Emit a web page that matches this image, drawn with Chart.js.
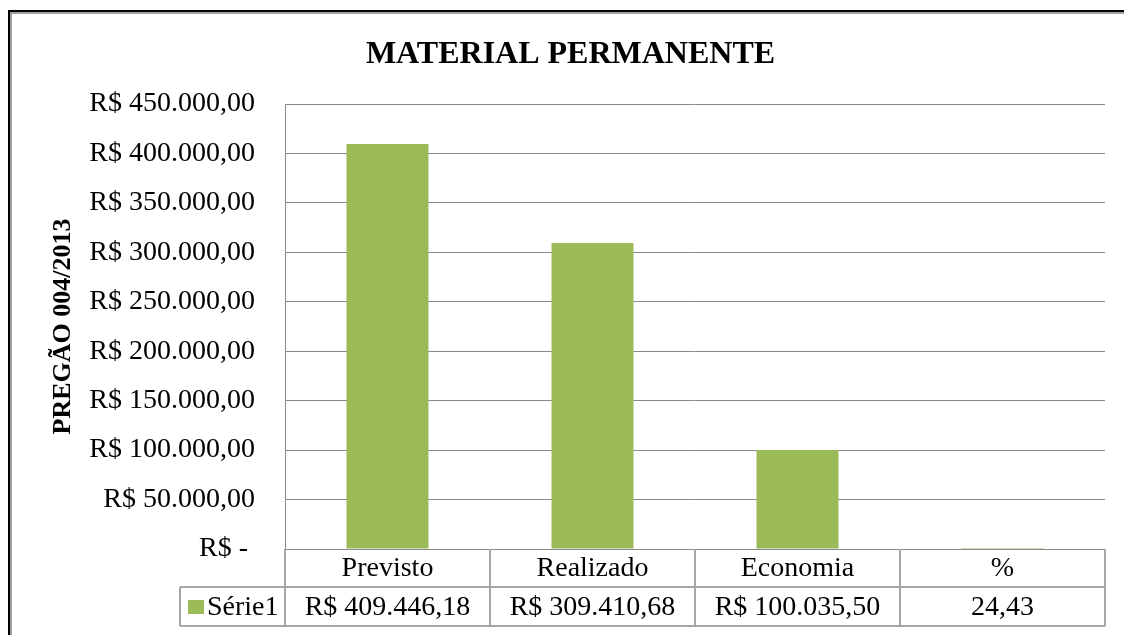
<!DOCTYPE html>
<html>
<head>
<meta charset="utf-8">
<title>MATERIAL PERMANENTE</title>
<script src="https://cdn.jsdelivr.net/npm/chart.js@4"></script>
<style>
  html, body { margin: 0; padding: 0; background: #fff; }
  #box { width: 1124px; height: 635px; }
</style>
</head>
<body>
<div id="box"><canvas id="chartPermanente" width="1124" height="635"></canvas></div>
<script>
var categorias = ["Previsto", "Realizado", "Economia", "%"];
var valores = [409446.18, 309410.68, 100035.50, 24.43];
var rotulosTabela = ["R$ 409.446,18", "R$ 309.410,68", "R$ 100.035,50", "24,43"];
var nomeSerie = "Série1";
var corBarra = "#9BBB59";
var fonte = "'Liberation Serif', 'Times New Roman', serif";

function formatBR(v) {
    var partes = v.toFixed(2).split(".");
    partes[0] = partes[0].replace(/\B(?=(\d{3})+(?!\d))/g, ".");
    return partes.join(",");
}

// moldura da página (borda superior e esquerda)
var moldura = {
    id: "moldura",
    beforeDraw: function(chart) {
        var ctx = chart.ctx;
        ctx.save();
        ctx.fillStyle = "#fff";
        ctx.fillRect(0, 0, chart.width, chart.height);
        ctx.fillStyle = "#000";
        ctx.fillRect(8, 10, chart.width - 8, 2);
        ctx.fillRect(8, 10, 2, chart.height - 10);
        ctx.fillStyle = "#a0a0a0";
        ctx.fillRect(10, 12, chart.width - 10, 2);
        ctx.fillRect(10, 12, 2, chart.height - 12);
        ctx.restore();
    }
};

// tabela de dados abaixo do eixo x
var tabela = {
    id: "tabela",
    afterDraw: function(chart) {
        var ctx = chart.ctx;
        var area = chart.chartArea;
        var x = chart.scales.x;
        var meio = (x.getPixelForValue(1) - x.getPixelForValue(0)) / 2;
        var y0 = area.bottom, y1 = y0 + 38, y2 = y1 + 39;
        var esq = area.left - 105;
        ctx.save();
        ctx.strokeStyle = "#a6a6a6";
        ctx.lineWidth = 2;
        ctx.beginPath();
        ctx.moveTo(area.left, y1); ctx.lineTo(area.right, y1);
        ctx.moveTo(esq, y1); ctx.lineTo(area.left, y1);
        ctx.moveTo(esq, y2); ctx.lineTo(area.right, y2);
        ctx.moveTo(esq, y1); ctx.lineTo(esq, y2);
        for (var i = 0; i < categorias.length; i++) {
            var cx = x.getPixelForValue(i);
            ctx.moveTo(cx + meio, y0); ctx.lineTo(cx + meio, y2);
        }
        ctx.moveTo(area.left, y0); ctx.lineTo(area.left, y2);
        ctx.stroke();

        ctx.fillStyle = "#000";
        ctx.font = "28px " + fonte;
        ctx.textAlign = "center";
        ctx.textBaseline = "middle";
        for (var j = 0; j < categorias.length; j++) {
            var px = x.getPixelForValue(j);
            ctx.fillText(categorias[j], px, (y0 + y1) / 2 + 1);
            ctx.fillText(rotulosTabela[j], px, (y1 + y2) / 2 + 1);
        }
        ctx.fillStyle = corBarra;
        ctx.fillRect(esq + 8, y1 + 13, 16, 14);
        ctx.fillStyle = "#000";
        ctx.textAlign = "left";
        ctx.fillText(nomeSerie, esq + 27, (y1 + y2) / 2 + 1);
        ctx.restore();
    }
};

var ChartPermanente = {
    type: "bar",
    data: {
        labels: categorias,
        datasets: [{
            label: nomeSerie,
            data: valores,
            backgroundColor: corBarra,
            categoryPercentage: 0.4,
            barPercentage: 1.0
        }]
    },
    options: {
        responsive: false,
        animation: false,
        layout: { padding: { left: 36, right: 19, top: 0, bottom: 0 } },
        plugins: {
            legend: { display: false },
            tooltip: { enabled: false },
            title: {
                display: true,
                text: "MATERIAL PERMANENTE",
                color: "#000",
                font: { family: fonte, size: 32, weight: "bold", lineHeight: 1.2 },
                padding: { top: 36, bottom: 29.6 }
            }
        },
        scales: {
            x: {
                grid: { display: false },
                border: { display: false },
                ticks: { display: false },
                afterFit: function(s) { s.height = 86; }
            },
            y: {
                min: 0,
                max: 450000,
                ticks: {
                    stepSize: 50000,
                    padding: 30,
                    color: "#000",
                    font: { family: fonte, size: 28 },
                    callback: function(v) { return v === 0 ? "R$ - " : "R$ " + formatBR(v); }
                },
                grid: { color: "#8a8a8a", lineWidth: 1, drawTicks: false },
                border: { color: "#8a8a8a", width: 1 },
                title: {
                    display: true,
                    text: "PREGÃO 004/2013",
                    color: "#000",
                    font: { family: fonte, size: 26, weight: "bold", lineHeight: 1.2 },
                    padding: { top: 12 }
                },
                afterFit: function(s) { s.width = 249; }
            }
        }
    },
    plugins: [moldura, tabela]
};

var ctxPermanente = document.getElementById("chartPermanente").getContext("2d");
window.Permanente = new Chart(ctxPermanente, ChartPermanente);
</script>
</body>
</html>
